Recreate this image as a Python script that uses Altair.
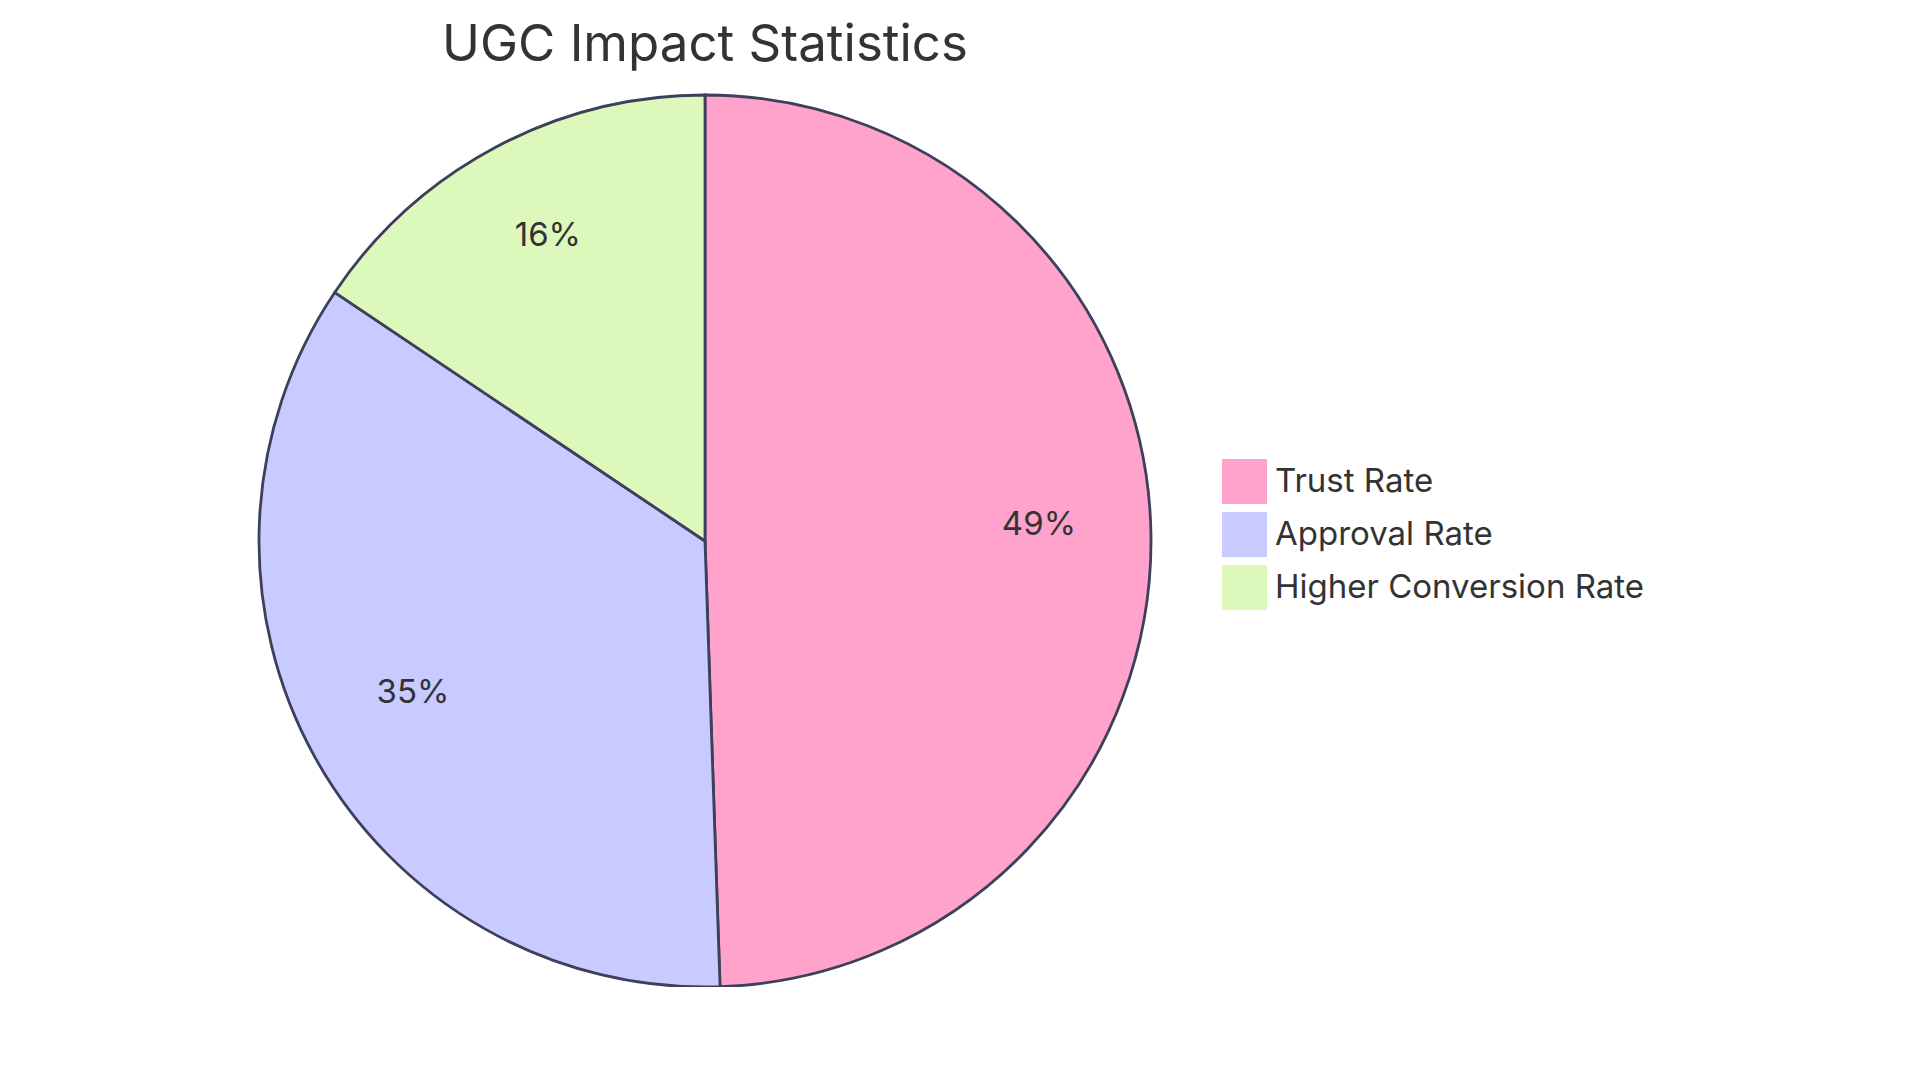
import altair as alt
import pandas as pd

categories = ["Trust Rate", "Approval Rate", "Higher Conversion Rate"]
# raw values (shown as rounded shares: 49%, 35%, 16%)
values = [92, 65, 29]
colors = ["#FFA3CD", "#C9CAFF", "#DCF9BB"]
title_text = "UGC Impact Statistics"

df = pd.DataFrame({
    "category": categories,
    "value": values,
    "idx": list(range(len(categories))),
})

base = alt.Chart(df).transform_joinaggregate(
    total="sum(value)"
).transform_calculate(
    label="round(datum.value / datum.total * 100) + '%'"
).encode(
    theta=alt.Theta("value:Q", stack=True),
    order=alt.Order("idx:Q", sort="ascending"),
)

pie = base.mark_arc(outerRadius=446, stroke="#3d405b", strokeWidth=2.8).encode(
    color=alt.Color(
        "category:N",
        scale=alt.Scale(domain=categories, range=colors),
        legend=alt.Legend(
            title=None,
            orient="none",
            legendX=1214,
            legendY=364,
            padding=0,
            symbolType="square",
            symbolSize=2025,
            symbolStrokeWidth=0,
            symbolOpacity=1,
            rowPadding=8,
            labelOffset=8,
            labelFont="Inter",
            labelFontSize=33,
            labelColor="#333333",
            labelLimit=0,
        ),
    )
)

labels = base.mark_text(
    radius=334, font="Inter", fontSize=33, color="#333333",
    baseline="alphabetic", align="center",
).encode(text="label:N")

chart = (
    alt.layer(pie, labels)
    .properties(
        width=1394,
        height=892,
        padding={"left": 0, "top": 87, "right": 500, "bottom": 0},
        autosize=alt.AutoSizeParams(type="none"),
        title=alt.TitleParams(
            title_text,
            anchor="middle",
            font="Inter",
            fontSize=51,
            fontWeight="normal",
            color="#333333",
            baseline="alphabetic",
            offset=36,
            dy=59,
        ),
    )
    .configure_view(stroke=None)
)

chart.save("out.html", embed_options={"renderer": "svg", "actions": False})
